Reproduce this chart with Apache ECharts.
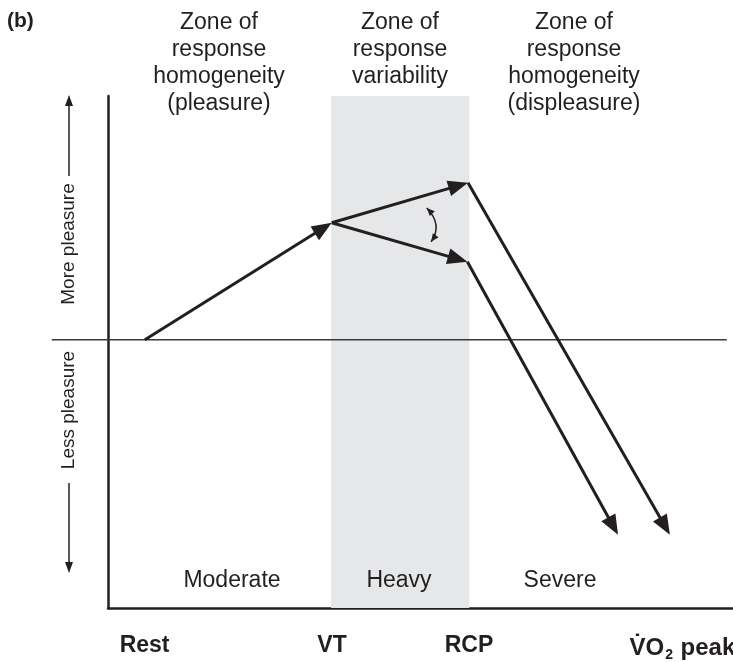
<!DOCTYPE html>
<html>
<head>
<meta charset="utf-8">
<script src="https://cdn.jsdelivr.net/npm/echarts@6/dist/echarts.min.js"></script>
<style>
  html, body { margin: 0; padding: 0; background: #fff; }
  #chart { width: 733px; height: 662px; }
</style>
</head>
<body>
<div id="chart"></div>
<script>
// ── data (x = exercise intensity, y = affective response, arbitrary units) ──
const stageNames = ['Rest', 'VT', 'RCP', 'VO2 peak']
const stageX     = [5.85, 35.85, 57.75, 91.9]

const zoneNames   = ['Moderate', 'Heavy', 'Severe']
const zoneHeaders = [
  'Zone of\nresponse\nhomogeneity\n(pleasure)',
  'Zone of\nresponse\nvariability',
  'Zone of\nresponse\nhomogeneity\n(displeasure)',
]
const heavyZone = [35.7, 57.8]   // VT .. RCP

// each row: x0, y0, x1, y1 (arrow head at x1, y1)
const responseArrows = [
  [5.9,  0,    35.8, 48],     // rest -> VT
  [35.8, 48,   57.6, 64.4],   // VT -> RCP, more pleasure
  [35.8, 48,   57.5, 32],     // VT -> RCP, less pleasure
  [57.6, 64.4, 89.9, -80],    // RCP -> peak
  [57.5, 32,   81.6, -80],
]
// variability swing: start, control, end
const swingCurve = [[51.0, 54.1, 53.6, 47.2, 51.7, 40.2]]

// neutral line (extends past the y axis on the left)
const zeroLine = [[-9, 0, 99, 0]]

const INK  = '#231f20'
const BAND = '#e6e7e8'
const FONT = '"Liberation Sans", Helvetica, Arial, sans-serif'

function arrowHead(tip, ux, uy, len, half) {
  const bx = tip[0] - ux * len, by = tip[1] - uy * len
  return [tip, [bx - uy * half, by + ux * half], [bx + uy * half, by - ux * half]]
}

function renderArrow(params, api) {
  const p0 = api.coord([api.value(0), api.value(1)])
  const p1 = api.coord([api.value(2), api.value(3)])
  const dx = p1[0] - p0[0], dy = p1[1] - p0[1]
  const len = Math.hypot(dx, dy)
  const ux = dx / len, uy = dy / len
  const headLen = 20
  return {
    type: 'group',
    children: [
      {
        type: 'line',
        shape: { x1: p0[0], y1: p0[1], x2: p1[0] - ux * (headLen - 3), y2: p1[1] - uy * (headLen - 3) },
        style: { stroke: INK, lineWidth: 3 },
      },
      {
        type: 'polygon',
        shape: { points: arrowHead(p1, ux, uy, headLen, 8) },
        style: { fill: INK },
      },
    ],
  }
}

function renderSwing(params, api) {
  const a = api.coord([api.value(0), api.value(1)])
  const c = api.coord([api.value(2), api.value(3)])
  const b = api.coord([api.value(4), api.value(5)])
  const dirA = [a[0] - c[0], a[1] - c[1]]
  const dirB = [b[0] - c[0], b[1] - c[1]]
  const la = Math.hypot(...dirA), lb = Math.hypot(...dirB)
  return {
    type: 'group',
    children: [
      {
        type: 'bezierCurve',
        shape: { x1: a[0], y1: a[1], x2: b[0], y2: b[1], cpx1: c[0], cpy1: c[1] },
        style: { stroke: INK, lineWidth: 1.5, fill: null },
      },
      { type: 'polygon', shape: { points: arrowHead(a, dirA[0] / la, dirA[1] / la, 8, 3.5) }, style: { fill: INK } },
      { type: 'polygon', shape: { points: arrowHead(b, dirB[0] / lb, dirB[1] / lb, 8, 3.5) }, style: { fill: INK } },
    ],
  }
}

function renderZeroLine(params, api) {
  const p0 = api.coord([api.value(0), api.value(1)])
  const p1 = api.coord([api.value(2), api.value(3)])
  return {
    type: 'line',
    shape: { x1: p0[0], y1: p0[1], x2: p1[0], y2: p1[1] },
    style: { stroke: '#3a3a3a', lineWidth: 1.5 },
  }
}

function sideArrow(x, yFrom, yTo) {
  const dir = yTo > yFrom ? 1 : -1
  return {
    type: 'group',
    children: [
      { type: 'line', shape: { x1: x, y1: yFrom, x2: x, y2: yTo - dir * 6 }, style: { stroke: INK, lineWidth: 1.5 } },
      { type: 'polygon', shape: { points: [[x, yTo], [x - 4, yTo - dir * 11], [x + 4, yTo - dir * 11]] }, style: { fill: INK } },
    ],
  }
}

const chart = echarts.init(document.getElementById('chart'))

chart.setOption({
  animation: false,
  textStyle: { fontFamily: FONT, color: INK },
  grid: { left: 108, right: 0, top: 96, bottom: 54, outerBoundsMode: 'none', containLabel: false },
  xAxis: {
    type: 'value', min: 0, max: 100,
    axisLine: { show: true, onZero: false, lineStyle: { color: INK, width: 2.5 } },
    axisTick: { show: false },
    splitLine: { show: false },
    axisLabel: {
      customValues: stageX,
      margin: 26,
      fontSize: 23, fontWeight: 'bold', color: INK, fontFamily: FONT,
      formatter: (v) => {
        const name = stageNames[stageX.indexOf(v)]
        return name === 'VO2 peak' ? '{v|V\u0307O}{sub|2}{v| peak}' : name
      },
      rich: {
        v:   { fontSize: 24, fontWeight: 'bold', color: INK, fontFamily: FONT, lineHeight: 28 },
        sub: { fontSize: 14, fontWeight: 'bold', color: INK, fontFamily: FONT, verticalAlign: 'bottom', lineHeight: 14, padding: [0, 1, 0, 1] },
      },
    },
  },
  yAxis: {
    type: 'value', min: -110, max: 100,
    axisLine: { show: true, onZero: false, lineStyle: { color: INK, width: 2.5 } },
    axisTick: { show: false },
    axisLabel: { show: false },
    splitLine: { show: false },
  },
  series: [
    {
      // heavy-domain band
      type: 'line',
      data: [],
      markArea: {
        silent: true,
        itemStyle: { color: BAND },
        data: [[{ xAxis: heavyZone[0] }, { xAxis: heavyZone[1] }]],
      },
    },
    {
      type: 'custom',
      renderItem: renderZeroLine,
      encode: { x: [0, 2], y: [1, 3] },
      data: zeroLine,
      clip: false,
      z: 3,
    },
    {
      type: 'custom',
      renderItem: renderArrow,
      encode: { x: [0, 2], y: [1, 3] },
      data: responseArrows,
      clip: false,
      z: 4,
    },
    {
      type: 'custom',
      renderItem: renderSwing,
      encode: { x: [0, 2, 4], y: [1, 3, 5] },
      data: swingCurve,
      clip: false,
      z: 4,
    },
  ],
  graphic: [
    { type: 'text', z: 50, left: 7, top: 11, style: { text: '(b)', fontSize: 21, fontWeight: 'bold', fill: INK, fontFamily: FONT } },
    // zone headers
    ...zoneHeaders.map((t, i) => ({
      type: 'text', z: 50, x: [219, 400, 574][i], y: 9,
      style: { text: t, align: 'center', verticalAlign: 'top', fontSize: 23, lineHeight: 27, fill: INK, fontFamily: FONT },
    })),
    // intensity domains
    ...zoneNames.map((t, i) => ({
      type: 'text', z: 50, x: [232, 399, 560][i], y: 581,
      style: { text: t, align: 'center', verticalAlign: 'middle', fontSize: 23, fill: INK, fontFamily: FONT },
    })),
    // y-axis direction labels
    {
      type: 'text', z: 50, x: 69, y: 244, rotation: Math.PI / 2,
      style: { text: 'More pleasure', align: 'center', verticalAlign: 'middle', fontSize: 19, fill: INK, fontFamily: FONT },
    },
    {
      type: 'text', z: 50, x: 69, y: 410, rotation: Math.PI / 2,
      style: { text: 'Less pleasure', align: 'center', verticalAlign: 'middle', fontSize: 19, fill: INK, fontFamily: FONT },
    },
    { ...sideArrow(69, 176, 95), z: 50 },
    { ...sideArrow(69, 483, 573), z: 50 },
  ],
})
</script>
</body>
</html>
